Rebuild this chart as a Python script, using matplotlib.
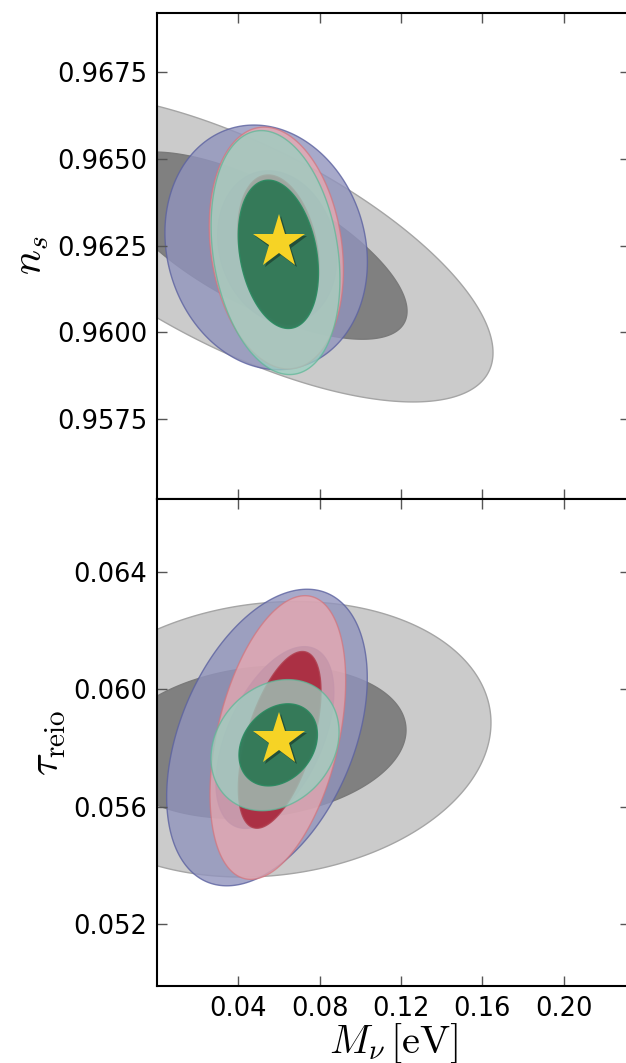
import numpy as np
import matplotlib
matplotlib.use("Agg")
import matplotlib.pyplot as plt
import matplotlib.patheffects as pe

plt.rcParams['mathtext.fontset'] = 'cm'
plt.rcParams['font.family'] = 'DejaVu Sans'

# fiducial point
fid_mnu = 0.06
fid_ns = 0.9626
fid_tau = 0.0583

# contours: [cx, cy, sx, sy, rho] for 2 sigma and 1 sigma
# panel 1: M_nu vs n_s
gray_ns_2s = [0.0425, 0.96243, 0.1228, 0.00444, -0.68]
gray_ns_1s = [0.050, 0.9625, 0.073, 0.0027, -0.70]
blue_ns_2s = [0.0537, 0.96245, 0.0498, 0.00353, -0.12]
blue_ns_1s = [0.0591, 0.96246, 0.0293, 0.0022, -0.15]
red_ns_2s = [0.0587, 0.96243, 0.0330, 0.00349, -0.18]
red_ns_1s = [0.0597, 0.96238, 0.0200, 0.00216, -0.25]
green_ns_2s = [0.0583, 0.96230, 0.0317, 0.00352, -0.22]
green_ns_1s = [0.0597, 0.96225, 0.0197, 0.00214, -0.25]

# panel 2: M_nu vs tau_reio
gray_tau_2s = [0.055, 0.0583, 0.1093, 0.0047, 0.12]
gray_tau_1s = [0.050, 0.0582, 0.0725, 0.0026, 0.16]
blue_tau_2s = [0.0541, 0.05836, 0.04935, 0.00506, 0.40]
blue_tau_1s = [0.0580, 0.05836, 0.0290, 0.0031, 0.50]
red_tau_2s = [0.05945, 0.05836, 0.03337, 0.00484, 0.40]
red_tau_1s = [0.06035, 0.05828, 0.02033, 0.003015, 0.55]
green_tau_2s = [0.05806, 0.0581, 0.0315, 0.002236, 0.20]
green_tau_1s = [0.05962, 0.05811, 0.01928, 0.0014, 0.25]

xticks = [0.04, 0.08, 0.12, 0.16, 0.20]
ns_ticks = [0.9575, 0.9600, 0.9625, 0.9650, 0.9675]
tau_ticks = [0.052, 0.056, 0.060, 0.064]

# styles (face, alpha, edge)
styles = {
    'gray2': ('#cbcbcb', 1.0, '#a5a5a5'),
    'gray1': ('#808080', 1.0, '#7a7a7a'),
    'blue2': ('#9194bd', 0.8, '#5c62a0'),
    'blue1': ('#5d6196', 0.8, '#5c62a0'),
    'red2': ('#eeaab0', 0.72, '#d4747c'),
    'red1': ('#a61e32', 0.85, '#b04050'),
    'green2': ('#9bd0c1', 0.75, '#5fb898'),
    'green1': ('#2a7552', 0.9, '#2a8a60'),
}


def draw_contour(ax, c, style):
    cx, cy, sx, sy, rho = c
    t = np.linspace(0, 2 * np.pi, 400)
    x = cx + sx * np.cos(t)
    y = cy + sy * (rho * np.cos(t) + np.sqrt(1 - rho ** 2) * np.sin(t))
    fc, a, ec = styles[style]
    ax.fill(x, y, facecolor=fc, alpha=a, edgecolor=ec, lw=1.0)


fig = plt.figure(figsize=(6.26, 10.63), dpi=100)
ax1 = fig.add_axes([0.2508, 0.5306, 0.7556, 0.4574])
ax2 = fig.add_axes([0.2508, 0.0724, 0.7556, 0.4582], sharex=ax1)

panels = [
    (ax1, [gray_ns_2s, gray_ns_1s, blue_ns_2s, blue_ns_1s, red_ns_2s, red_ns_1s, green_ns_2s, green_ns_1s], fid_ns),
    (ax2, [gray_tau_2s, gray_tau_1s, blue_tau_2s, blue_tau_1s, red_tau_2s, red_tau_1s, green_tau_2s, green_tau_1s], fid_tau),
]
names = ['gray2', 'gray1', 'blue2', 'blue1', 'red2', 'red1', 'green2', 'green1']

for ax, conts, fy in panels:
    for c, n in zip(conts, names):
        draw_contour(ax, c, n)
    ax.plot([fid_mnu], [fy], marker='*', ms=40, color='#f6d325', mec='none', ls='none',
            path_effects=[pe.withSimplePatchShadow(offset=(1.5, -1.5), shadow_rgbFace='k', alpha=0.35)])
    ax.tick_params(direction='in', top=True, right=True, length=7, width=1,
                   color='#555555', labelsize=18.5, pad=7)
    for s in ax.spines.values():
        s.set_linewidth(1.5)

ax1.set_xlim(0, 0.2327)
ax1.set_xticks(xticks)
ax1.set_ylim(0.95519, 0.96922)
ax1.set_yticks(ns_ticks)
ax1.set_yticklabels(['%.4f' % v for v in ns_ticks])
ax1.tick_params(labelbottom=False)
ax1.set_ylabel(r'$n_s$', fontsize=30)

ax2.set_ylim(0.04988, 0.0665)
ax2.set_yticks(tau_ticks)
ax2.set_yticklabels(['%.3f' % v for v in tau_ticks])
ax2.set_xticklabels(['%.2f' % v for v in xticks])
ax2.set_ylabel(r'$\tau_{\rm reio}$', fontsize=30)
ax2.set_xlabel(r'$M_\nu\,[\mathrm{eV}]$', fontsize=29, labelpad=0)

fig.savefig('out.png', dpi=100)
